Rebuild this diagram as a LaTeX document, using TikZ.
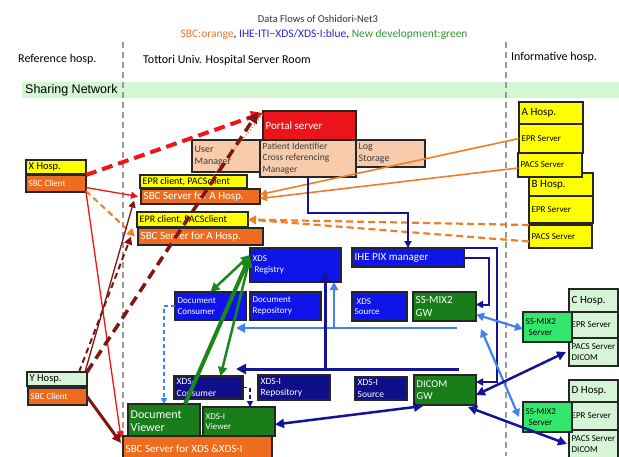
\documentclass[tikz,border=0pt]{standalone}
\usepackage{fontspec}
\setmainfont{Carlito}
\newfontfamily\arialf{Liberation Sans}
\usetikzlibrary{arrows.meta,calc}
\definecolor{orfill}{RGB}{238,108,30}
\definecolor{yelfill}{RGB}{255,255,0}
\definecolor{redfill}{RGB}{235,20,25}
\definecolor{peach}{RGB}{248,203,173}
\definecolor{bluefill}{RGB}{15,20,235}
\definecolor{navyfill}{RGB}{15,15,140}
\definecolor{grfill}{RGB}{25,125,25}
\definecolor{lgfill}{RGB}{214,245,214}
\definecolor{bandc}{RGB}{210,247,210}
\definecolor{ssmfill}{RGB}{50,230,110}
\definecolor{redln}{RGB}{240,20,20}
\definecolor{dredln}{RGB}{130,20,20}
\definecolor{orln}{RGB}{240,125,40}
\definecolor{navyln}{RGB}{20,20,150}
\definecolor{lbln}{RGB}{65,130,235}
\definecolor{grln}{RGB}{25,135,25}
\definecolor{txtgray}{RGB}{60,60,60}
\definecolor{sbcc}{RGB}{230,120,50}
\definecolor{ihec}{RGB}{40,40,200}
\definecolor{newc}{RGB}{50,150,50}
\newcommand\mkbox[8]{%
  \node[bxs,fill=#2,minimum width=#5pt,minimum height=#6pt] (#1) at (#3,#4) {};
  \node[#7,anchor=west] (#1-t) at ([xshift=2.5pt]#1.west) {#8};}
\begin{document}
\begin{tikzpicture}[x=1pt,y=-1pt,
  bxs/.style={draw=black!85,line width=1.3pt,rectangle,anchor=north west,inner sep=0pt,outer sep=0pt},
  tw/.style={text=white,inner sep=0pt,align=left},
  tb/.style={text=black,inner sep=0pt,align=left},
  tg/.style={text=txtgray,inner sep=0pt,align=left},
  f9/.style={font=\fontsize{9}{10.5}\selectfont},
  f95/.style={font=\fontsize{9.5}{11.3}\selectfont},
  f10/.style={font=\fontsize{10}{11.8}\selectfont},
  f105/.style={font=\fontsize{10.5}{12.4}\selectfont},
  f11/.style={font=\fontsize{11}{13}\selectfont},
  f115/.style={font=\fontsize{11.5}{13.5}\selectfont},
  f12/.style={font=\fontsize{12}{13.5}\selectfont},
  ar/.style={-{Triangle[length=#1pt,width=#1pt]}},
  br/.style={{Triangle[length=#1pt,width=#1pt]}-{Triangle[length=#1pt,width=#1pt]}},
  dsh/.style={dash pattern=on #1pt off 4pt},
  sep/.style={draw=black!40,line width=1.5pt,dash pattern=on 6pt off 4pt}
]
\useasboundingbox (0,0) rectangle (619,456);
\fill[white] (0,0) rectangle (619,456);
% titles
\node[text=black!80,f105] (title) at (318,19) {Data Flows of Oshidori-Net3};
\node[f115] (subt) at (324,34) {\textcolor{sbcc}{SBC:orange}, \textcolor{ihec}{IHE-ITI−XDS/XDS-I:blue}, \textcolor{newc}{New development:green}};
\node[f12,anchor=west,inner sep=0pt] (hdref) at (18,59) {Reference hosp.};
\node[f12,anchor=west,inner sep=0pt] (hdtot) at (143,60) {Tottori Univ. Hospital Server Room};
\node[f12,anchor=west,inner sep=0pt] (hdinf) at (511,57) {Informative hosp.};
% band
\fill[bandc] (22,82) rectangle (619,98);
\node[anchor=west,inner sep=0pt,font=\arialf\fontsize{12.5}{14}\selectfont] (band) at (25,90) {Sharing Network};
% separators
\draw[sep] (123,42) -- (123,456);
\draw[sep] (506,42) -- (506,456);
% boxes
\mkbox{xhosp}{yelfill}{26}{160}{60}{14}{tb,f105}{X Hosp.}
\mkbox{xsbc}{orfill}{26}{175}{60}{17}{tw,f9}{SBC Client}
\mkbox{yhosp}{lgfill}{27}{372}{60}{14}{tb,f105}{Y Hosp.}
\mkbox{ysbc}{orfill}{28}{388}{59}{17}{tw,f9}{SBC Client}
\mkbox{epr1}{yelfill}{140}{175}{107}{13}{tb,f10}{EPR client, PACSclient}
\mkbox{sbca1}{orfill}{141}{189}{119}{15}{tw,f11}{SBC Server for A Hosp.}
\mkbox{epr2}{yelfill}{137}{212}{111}{15}{tb,f10}{EPR client, PACSclient}
\mkbox{sbca2}{orfill}{138}{228}{125}{17}{tw,f11}{SBC Server for A Hosp.}
\mkbox{portal}{redfill}{263}{111}{93}{29}{tw,f11}{Portal server}
\mkbox{userm}{peach}{192}{140}{68}{32}{tg,f10}{User\\Manager}
\mkbox{pixm}{peach}{260}{140}{96}{37}{tg,f95}{Patient Identifier\\Cross referencing\\Manager}
\mkbox{logs}{peach}{356}{140}{69}{27}{tg,f10}{Log\\Storage}
\mkbox{bhosp}{yelfill}{529}{173}{64}{23}{tb,f11}{B Hosp.}
\mkbox{bepr}{yelfill}{529}{196}{64}{27}{tb,f9}{EPR Server}
\mkbox{bpacs}{yelfill}{529}{225}{63}{23}{tb,f9}{PACS Server}
\mkbox{ahosp}{yelfill}{519}{102}{64}{22}{tb,f11}{A Hosp.}
\mkbox{aepr}{yelfill}{519}{124}{64}{29}{tb,f9}{EPR Server}
\mkbox{apacs}{yelfill}{518}{153}{64}{24}{tb,f9}{PACS Server}
\mkbox{registry}{bluefill}{250}{248}{91}{34}{tw,f9}{XDS\\\hspace{2pt}Registry}
\mkbox{ihepix}{bluefill}{352}{248}{112}{19}{tw,f11}{IHE PIX manager}
\mkbox{doccons}{bluefill}{175}{292}{71}{28}{tw,f9}{Document\\Consumer}
\mkbox{docrepo}{bluefill}{250}{292}{71}{28}{tw,f9}{Document\\Repository}
\mkbox{xdssrc}{bluefill}{352}{292}{55}{29}{tw,f9}{\hspace{2pt}XDS\\Source}
\mkbox{ssgw}{grfill}{413}{292}{63}{29}{tw,f11}{SS-MIX2\\GW}
\mkbox{xicons}{navyfill}{174}{376}{69}{23}{tw,f95}{XDS-I\\Consumer}
\mkbox{xirepo}{navyfill}{258}{375}{72}{25}{tw,f95}{XDS-I\\Repository}
\mkbox{xisrc}{navyfill}{355}{377}{52}{23}{tw,f95}{XDS-I\\Source}
\mkbox{dicomgw}{grfill}{414}{375}{62}{30}{tw,f105}{DICOM\\GW}
\mkbox{docview}{grfill}{128}{404}{72}{34}{tw,f12}{Document\\Viewer}
\mkbox{xiview}{grfill}{203}{407}{72}{29}{tw,f9}{XDS-I\\Viewer}
\mkbox{sbcxds}{orfill}{123}{436}{149}{26}{tw,f11}{SBC Server for XDS \&XDS-I}
\mkbox{chosp}{lgfill}{569}{289}{49}{23}{tb,f11}{C Hosp.}
\mkbox{cepr}{lgfill}{569}{312}{49}{26}{tb,f9}{EPR Server}
\mkbox{cpacs}{lgfill}{569}{338}{49}{28}{tb,f9}{PACS Server\\DICOM}
\mkbox{dhosp}{lgfill}{569}{380}{49}{22}{tb,f11}{D Hosp.}
\mkbox{depr}{lgfill}{569}{402}{49}{28}{tb,f9}{EPR Server}
\mkbox{dpacs}{lgfill}{569}{430}{49}{28}{tb,f9}{PACS Server\\DICOM}
\mkbox{cssm}{ssmfill}{523}{312}{49}{30}{tb,f9}{SS-MIX2\\\hspace{3pt}Server}
\mkbox{dssm}{ssmfill}{523}{402}{49}{30}{tb,f9}{SS-MIX2\\\hspace{3pt}Server}
% ---- connectors: SBC (orange / red)
\draw[orln,line width=1.2pt,dotted] ([xshift=20pt]epr1.north) -- ([yshift=-3pt]portal.north west);
\draw[orln,line width=1.6pt,ar=7] (aepr.west) -- ([yshift=2pt]sbca1.east);
\draw[orln,line width=1.6pt,ar=7] ([yshift=-3pt]apacs.west) -- ([yshift=-2pt]sbca1.east);
\draw[orln,line width=2.2pt,dsh=7,ar=8] (bpacs.north west) -- (epr2.east);
\draw[orln,line width=2.2pt,dsh=7,ar=8] ([yshift=-5pt]bpacs.west) -- (epr2.east);
\draw[orln,line width=2pt,dsh=6,ar=8] ([yshift=1pt]xsbc.south east) -- ([xshift=-3pt]sbca2.west);
\draw[redln,line width=1.3pt,ar=7] ([yshift=-4pt]xsbc.east) -- ([xshift=-3pt]sbca1.west);
\draw[redln,line width=1.3pt,ar=7] (xsbc.south east) -- ([xshift=-2pt,yshift=-2pt]sbcxds.north west);
\draw[redln,line width=4pt,dash pattern=on 11pt off 6pt,ar=12] (xsbc.north east) -- ([yshift=-2pt]portal.north west);
\draw[dredln,line width=3pt,ar=9] (ysbc.east) -- ([xshift=-2pt,yshift=6pt]sbcxds.west);
\draw[dredln,line width=1.3pt,ar=7] ([xshift=-2pt]yhosp.north east) -- ([xshift=-7pt,yshift=-4pt]sbca1.west);
\draw[dredln,line width=2pt,dsh=6,ar=8] ([xshift=-8pt]yhosp.north east) -- ([xshift=-7pt]sbca2.west);
\draw[dredln,line width=3.5pt,dash pattern=on 10pt off 6pt,ar=11] (yhosp.north east) -- ([xshift=-5pt,yshift=-1pt]portal.north west);
% ---- connectors: IHE (blue)
\draw[navyln,line width=2pt,ar=7] (pixm.south) -- ++(0,36) -| (ihepix.north);
\draw[navyln,line width=2pt,ar=7] (ihepix.east) -- ++(25,0) |- ([yshift=2pt]ssgw.east);
\draw[navyln,line width=2pt,ar=7] (ihepix.north east) -- ++(33,0) |- ([yshift=8pt]dicomgw.east);
\coordinate (lbus) at (457,328);
\coordinate (lbusj) at (334,328);
\draw[lbln,line width=2.5pt,ar=9] (lbus) -- ([xshift=-10pt]doccons.south east |- lbus);
\draw[lbln,line width=2.5pt,ar=8] (lbusj) -- (lbusj |- registry.south);
\coordinate (ibus) at (459,369);
\coordinate (ibusj) at (325,369);
\draw[navyln,line width=3pt,ar=10] (ibus) -- ([xshift=-7pt]xicons.north east |- ibus);
\draw[navyln,line width=3pt,ar=10] (ibusj) -- ([yshift=10pt]ibusj |- registry.south);
\draw[lbln,line width=2.2pt,br=8] ([yshift=-8pt]ssgw.east) -- ([yshift=-2pt]cssm.west);
\draw[lbln,line width=2.2pt,br=8] ([xshift=5pt,yshift=-8pt]ssgw.south east) -- ([xshift=-4pt]dssm.west);
\draw[navyln,line width=2.5pt,br=9] ([yshift=-5pt]dicomgw.east) -- ([xshift=-3pt]cpacs.west);
\draw[navyln,line width=2.5pt,br=9] ([xshift=-8pt,yshift=-2pt]dicomgw.south east) -- ([xshift=-2pt]dpacs.west);
\draw[navyln,line width=2.5pt,br=9] ([xshift=9pt,yshift=-1pt]dicomgw.south west) -- ([yshift=-3pt]xiview.east);
\draw[navyln,line width=1.5pt,dash pattern=on 4pt off 3pt,ar=6] (xicons.east) -| ([xshift=11pt]xiview.north);
\draw[lbln,line width=1.5pt,dash pattern=on 4pt off 3pt,ar=6] (doccons.west) -| (docview.north);
% ---- connectors: new development (green)
\draw[grln,line width=2.5pt,br=9] ([yshift=-7pt]registry.north west) -- (doccons.north);
\draw[grln,line width=4pt,ar=11] ([xshift=21pt]docview.north) -- ([yshift=-8pt]registry.north west);
\draw[grln,line width=2.5pt,br=9] ([yshift=-10pt]registry.north west) -- ([xshift=12pt]xicons.north);
\end{tikzpicture}
\end{document}
